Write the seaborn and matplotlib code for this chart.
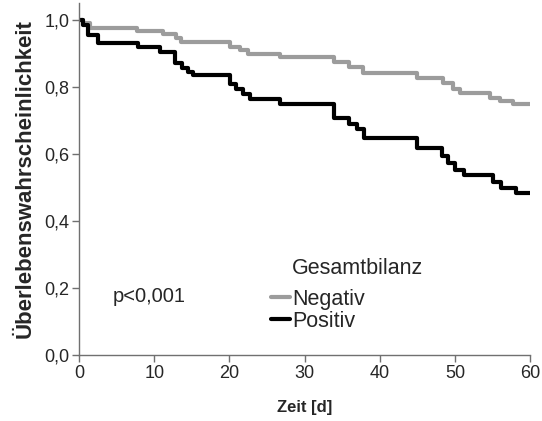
import numpy as np
import pandas as pd
import matplotlib
matplotlib.use("Agg")
import matplotlib.pyplot as plt
import seaborn as sns
from matplotlib.ticker import FuncFormatter

# Kaplan-Meier step data (time in days, survival after step)
neg_t = [0, 0.5, 1.5, 7.7, 11.2, 12.9, 13.6, 20.1, 21.4, 22.5, 26.7, 33.9, 35.9,
         37.8, 44.9, 48.4, 49.7, 50.7, 54.7, 56.0, 57.7, 60]
neg_s = [1.0, 0.991, 0.976, 0.967, 0.958, 0.946, 0.934, 0.919, 0.910, 0.899, 0.890,
         0.875, 0.860, 0.842, 0.827, 0.812, 0.794, 0.782, 0.767, 0.758, 0.749, 0.749]
pos_t = [0, 0.53, 1.2, 2.5, 7.8, 10.8, 12.8, 13.7, 14.5, 15.2, 20.1, 20.9, 21.8,
         22.7, 26.7, 33.9, 35.9, 37.0, 37.9, 44.9, 48.3, 49.1, 50.0, 51.2, 55.1,
         56.1, 58.1, 60]
pos_s = [1.0, 0.985, 0.955, 0.931, 0.919, 0.904, 0.872, 0.857, 0.845, 0.836, 0.809,
         0.794, 0.779, 0.764, 0.749, 0.707, 0.690, 0.675, 0.648, 0.618, 0.594, 0.573,
         0.552, 0.537, 0.516, 0.499, 0.484, 0.484]
groups = ["Negativ", "Positiv"]
x_ticks = [0, 10, 20, 30, 40, 50, 60]
y_ticks = [0.0, 0.2, 0.4, 0.6, 0.8, 1.0]

df = pd.DataFrame({
    "t": neg_t + pos_t,
    "s": neg_s + pos_s,
    "Gesamtbilanz": [groups[0]] * len(neg_t) + [groups[1]] * len(pos_t),
})

sns.set_style("white")
plt.rcParams["font.family"] = ["Liberation Sans", "DejaVu Sans"]

fig = plt.figure(figsize=(5.42, 4.21), dpi=100)
ax = fig.add_axes([0.146, 0.157, 0.832, 0.836])

sns.lineplot(data=df, x="t", y="s", hue="Gesamtbilanz",
             palette={"Negativ": "#9c9c9c", "Positiv": "#000000"},
             drawstyle="steps-post", linewidth=3.0, estimator=None, sort=False,
             ax=ax)

ax.set_xlim(0, 60)
ax.set_ylim(0, 1.05)
ax.set_xticks(x_ticks)
ax.set_yticks(y_ticks)
ax.yaxis.set_major_formatter(FuncFormatter(lambda v, p: f"{v:.1f}".replace(".", ",")))
for side in ["top", "right"]:
    ax.spines[side].set_visible(False)
for side in ["left", "bottom"]:
    ax.spines[side].set_color("#707070")
    ax.spines[side].set_linewidth(1.0)
ax.tick_params(axis="both", direction="out", length=5, width=1, color="#707070",
               labelsize=13, pad=2, left=True, bottom=True)

ax.set_ylabel("Überlebenswahrscheinlichkeit", fontsize=16, fontweight="bold",
              labelpad=6)
ax.set_xlabel("Zeit [d]", fontsize=12, fontweight="bold", labelpad=13)

ax.text(4.5, 0.173, "p<0,001", fontsize=14.5, va="center", ha="left")

ax.text(28.3, 0.258, "Gesamtbilanz", fontsize=15.5, va="center", ha="left")
handles, labels = ax.get_legend_handles_labels()
leg = ax.legend(handles, labels, frameon=False,
                loc="upper left", bbox_to_anchor=(0.425, 0.188),
                fontsize=15.5, handlelength=0.9,
                handletextpad=0.1, labelspacing=0.05, borderaxespad=0,
                borderpad=0)

fig.savefig("out.png", dpi=100)
